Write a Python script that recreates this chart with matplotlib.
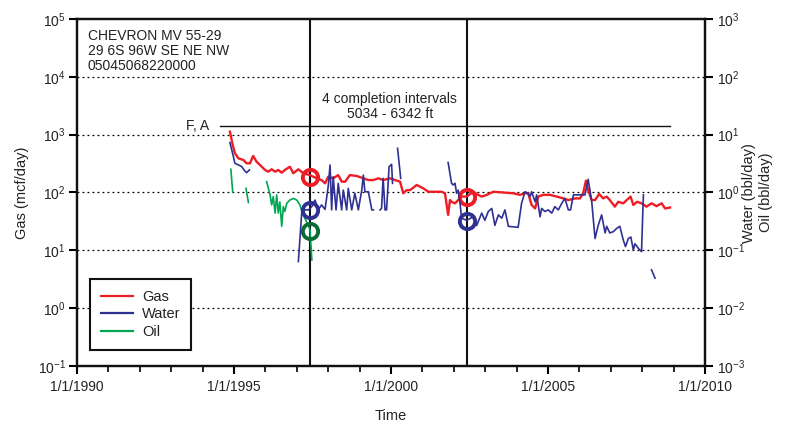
import matplotlib
matplotlib.use("Agg")
import matplotlib.pyplot as plt
import numpy as np
from matplotlib.lines import Line2D
from matplotlib.ticker import FixedLocator, NullLocator

nan = np.nan

# gas (mcf/day), years after 1/1/1990
gas_years = [4.87, 4.96, 5.03, 5.14, 5.30, 5.40, 5.51, 5.61, 5.72, 5.83, 5.99, 6.09,
             6.20, 6.31, 6.41, 6.52, 6.62, 6.78, 6.89, 7.05, 7.21, 7.42, 7.63, 7.79,
             7.90, 8.00, 8.16, 8.32, 8.43, 8.54, 8.69, 8.91, 9.12, 9.28, 9.44, 9.60,
             9.75, 9.97, 10.13, 10.29, 10.39, 10.50, 10.61, 10.82, 11.03, 11.19, 11.40,
             11.61, 11.72, 11.82, 11.88, 11.93, 12.04, 12.14, 12.25, 12.41, 12.62, 12.78,
             12.89, 13.05, 13.26, 13.68, 13.89, 14.11, 14.27, 14.37, 14.48, 14.59, 14.69,
             14.85, 15.06, 15.28, 15.49, 15.65, 15.86, 16.02, 16.12, 16.21, 16.28, 16.39,
             16.50, 16.63, 16.76, 16.87, 16.97, 17.13, 17.24, 17.40, 17.51, 17.63, 17.72,
             17.84, 17.98, 18.14, 18.30, 18.46, 18.62, 18.73, 18.89]
gas_vals = [1125, 662, 476, 390, 365, 320, 320, 428, 340, 299, 245, 229,
            252, 229, 245, 220, 245, 279, 215, 252, 215, 200, 176, 164,
            144, 187, 176, 200, 154, 154, 200, 193, 176, 164, 164, 176,
            164, 176, 164, 154, 97, 110, 110, 135, 118, 103, 103,
            103, 97, 41, 74, 69, 65, 74, 85, 85, 103, 91,
            85, 91, 103, 99, 97, 91, 97, 97, 61, 53, 85,
            91, 91, 85, 79, 74, 79, 79, 97, 160, 110, 74,
            74, 94, 79, 85, 74, 57, 69, 65, 74, 85, 61,
            69, 65, 57, 65, 58, 65, 53, 55]

# water (bbl/day); nan marks a gap in the record
water_years = [4.87, 4.98, 5.03, 5.14, 5.25, 5.32, 5.40, 5.49, nan,
               7.05, 7.16, 7.21, 7.37, 7.48, 7.58, 7.68, 7.79, 7.90, 8.00, 8.06, 8.11,
               8.16, 8.25, 8.32, 8.43, 8.48, 8.59, 8.64, 8.75, 8.85, 8.96, 9.07, 9.12,
               9.17, 9.28, 9.39, 9.44, nan,
               9.65, 9.70, 9.75, 9.81, 9.86, 9.94, 10.02, 10.05, nan,
               10.21, 10.31, nan,
               11.82, 11.93, 11.98, 12.04, 12.09, 12.14, 12.20, 12.25, 12.41, 12.62,
               12.73, 12.89, 12.99, 13.10, 13.21, 13.31, 13.42, 13.53, 13.63, 13.74,
               14.05, 14.16, 14.27, 14.34, 14.43, 14.48, 14.59, 14.64, 14.75, 14.80,
               14.90, 15.01, 15.12, 15.22, 15.33, 15.44, 15.54, 15.65, 15.72, 15.81,
               16.18, 16.28, 16.39, 16.50, 16.60, 16.71, 16.82, 16.87, 16.97, 17.08,
               17.19, 17.29, 17.40, 17.47, 17.56, 17.64, 17.72, 17.77, 17.88, 17.98,
               18.04, nan,
               18.30, 18.41]
water_vals = [7.3, 4.2, 3.2, 3.0, 2.8, 2.45, 2.2, 2.45, nan,
              0.064, 0.47, 0.50, 0.50, 0.57, 0.74, 0.50, 0.61, 0.51, 1.26, 2.99, 0.50,
              1.87, 0.50, 1.44, 0.50, 1.10, 0.50, 1.18, 0.50, 0.97, 0.50, 1.10, 2.00,
              1.03, 1.03, 0.50, 0.50, nan,
              0.50, 0.53, 1.76, 0.50, 0.50, 2.79, 3.07, 1.44, nan,
              5.81, 1.76, nan,
              3.3, 1.44, 1.35, 1.44, 0.97, 1.10, 0.65, 0.36, 0.33, 0.38,
              0.27, 0.44, 0.33, 0.47, 0.53, 0.27, 0.41, 0.36, 0.50, 0.26,
              0.25, 0.65, 1.03, 0.99, 0.85, 1.03, 0.69, 0.91, 0.38, 0.53,
              0.47, 0.50, 0.44, 0.57, 0.50, 0.65, 0.79, 0.50, 0.50, 0.91,
              0.91, 1.69, 0.74, 0.16, 0.27, 0.41, 0.20, 0.26, 0.20, 0.21,
              0.24, 0.26, 0.15, 0.116, 0.16, 0.17, 0.101, 0.13, 0.108, 0.095,
              0.91, nan,
              0.046, 0.033]

# oil (bbl/day)
oil_years = [4.90, 4.96, nan, 5.38, 5.46, nan,
             6.04, 6.15, 6.20, 6.25, 6.31, 6.36, 6.41, 6.46, 6.52, 6.57, 6.62, 6.68,
             6.78, 6.89, 7.00, 7.10, 7.16, 7.42, 7.48]
oil_vals = [2.52, 1.01, nan, 1.18, 0.67, nan,
            1.54, 0.91, 0.61, 0.85, 0.44, 0.91, 0.44, 0.69, 0.26, 0.57, 0.47, 0.65,
            0.74, 0.79, 0.74, 0.61, 0.47, 0.23, 0.068]

# completion dates (years after 1990) and the circled rates
completion_years = [7.42, 12.42]
gas_circles = [187, 85]
water_circles = [0.50, 0.32]
oil_circle = 0.22

RED = "#ee1c24"
BLUE = "#2e3192"
GREEN = "#00a651"
DKGREEN = "#0a6b35"
TXT = "#222222"

plt.rcParams["font.family"] = ["Liberation Sans", "DejaVu Sans"]
plt.rcParams["mathtext.default"] = "regular"
plt.rcParams["font.size"] = 10
plt.rcParams["axes.unicode_minus"] = False

fig = plt.figure(figsize=(7.85, 4.28), dpi=100)
ax = fig.add_axes([0.0981, 0.1449, 0.7999, 0.8107])
ax2 = ax.twinx()

gx = 1990 + np.array(gas_years)
wx = 1990 + np.array(water_years)
ox = 1990 + np.array(oil_years)
cx = 1990 + np.array(completion_years)

ax.set_yscale("log")
ax.set_ylim(1e-1, 1e5)
ax.set_xlim(1990, 2010)
ax2.set_yscale("log")
ax2.set_ylim(1e-3, 1e3)

# decade grid
for d in range(0, 5):
    ax.axhline(10.0 ** d, color="black", lw=0.9, ls=(0, (1.5, 2.5)), zorder=1)

for c in cx:
    ax.axvline(c, color="#111111", lw=1.5, zorder=2)

ax.plot(gx, gas_vals, color=RED, lw=1.7, zorder=4)
ax2.plot(wx, water_vals, color=BLUE, lw=1.2, zorder=3)
ax2.plot(ox, oil_vals, color=GREEN, lw=1.2, zorder=3)

circ = dict(marker="o", ms=11, mfc="none", mew=2.8, ls="none", zorder=6)
ax.plot(cx, gas_circles, mec=RED, **circ)
ax2.plot(cx, water_circles, mec=BLUE, **circ)
ax2.plot(cx[:1], [oil_circle], mec=DKGREEN, **circ)

# formation annotation
ax.plot([1994.55, 2008.89], [1400, 1400], color="#111111", lw=1.0, zorder=2)
ax.text(1994.2, 1400, "F, A", ha="right", va="center", color=TXT)
ax.text(0.498, 0.769, "4 completion intervals", transform=ax.transAxes,
        ha="center", va="center", color=TXT)
ax.text(0.498, 0.726, "5034 - 6342 ft", transform=ax.transAxes,
        ha="center", va="center", color=TXT)
ax.text(0.0175, 0.972, "CHEVRON MV 55-29\n29 6S 96W SE NE NW\n05045068220000",
        transform=ax.transAxes, ha="left", va="top", color=TXT,
        linespacing=1.1)

# ticks
xt = [1990, 1995, 2000, 2005, 2010]
ax.set_xticks(xt)
ax.set_xticklabels([f"1/1/{y}" for y in xt], color=TXT)
ax.xaxis.set_minor_locator(FixedLocator(np.arange(1990, 2011)))
ax.tick_params(axis="x", which="major", direction="out", length=6, width=1.5, pad=4)
ax.tick_params(axis="x", which="minor", direction="out", length=4, width=1.2)

left_exp = list(range(-1, 6))
right_exp = list(range(-3, 4))
ax.set_yticks([10.0 ** e for e in left_exp])
ax.set_yticklabels([f"$10^{{{e}}}$" for e in left_exp])
ax2.set_yticks([10.0 ** e for e in right_exp])
ax2.set_yticklabels([f"$10^{{{e}}}$" for e in right_exp])
ax.yaxis.set_minor_locator(NullLocator())
ax2.yaxis.set_minor_locator(NullLocator())
ax.tick_params(axis="y", direction="out", length=6, width=1.5, labelcolor=TXT, pad=2)
ax2.tick_params(axis="y", direction="out", length=6, width=1.5, labelcolor=TXT, pad=3)

for a in (ax, ax2):
    for s in a.spines.values():
        s.set_linewidth(1.6)
        s.set_color("#111111")

ax.set_xlabel("Time", fontsize=10.5, color=TXT, labelpad=11)
ax.set_ylabel("Gas (mcf/day)", fontsize=10.5, color=TXT, labelpad=6)
fig.text(0.954, 0.55, "Water (bbl/day)", rotation=90, ha="center", va="center",
         fontsize=10.5, color=TXT)
fig.text(0.976, 0.55, "Oil (bbl/day)", rotation=90, ha="center", va="center",
         fontsize=10.5, color=TXT)

handles = [Line2D([], [], color=RED, lw=1.6),
           Line2D([], [], color=BLUE, lw=1.6),
           Line2D([], [], color=GREEN, lw=1.6)]
leg = ax.legend(handles, ["Gas", "Water", "Oil"], loc="lower left",
                bbox_to_anchor=(0.0207, 0.046), fancybox=False, framealpha=1,
                edgecolor="#111111", fontsize=10.5, handlelength=2.2,
                handletextpad=0.6, borderpad=0.75, labelspacing=0.25,
                borderaxespad=0)
leg.get_frame().set_linewidth(1.5)
for t in leg.get_texts():
    t.set_color(TXT)
leg.set_zorder(10)

fig.savefig("out.png", dpi=100)
